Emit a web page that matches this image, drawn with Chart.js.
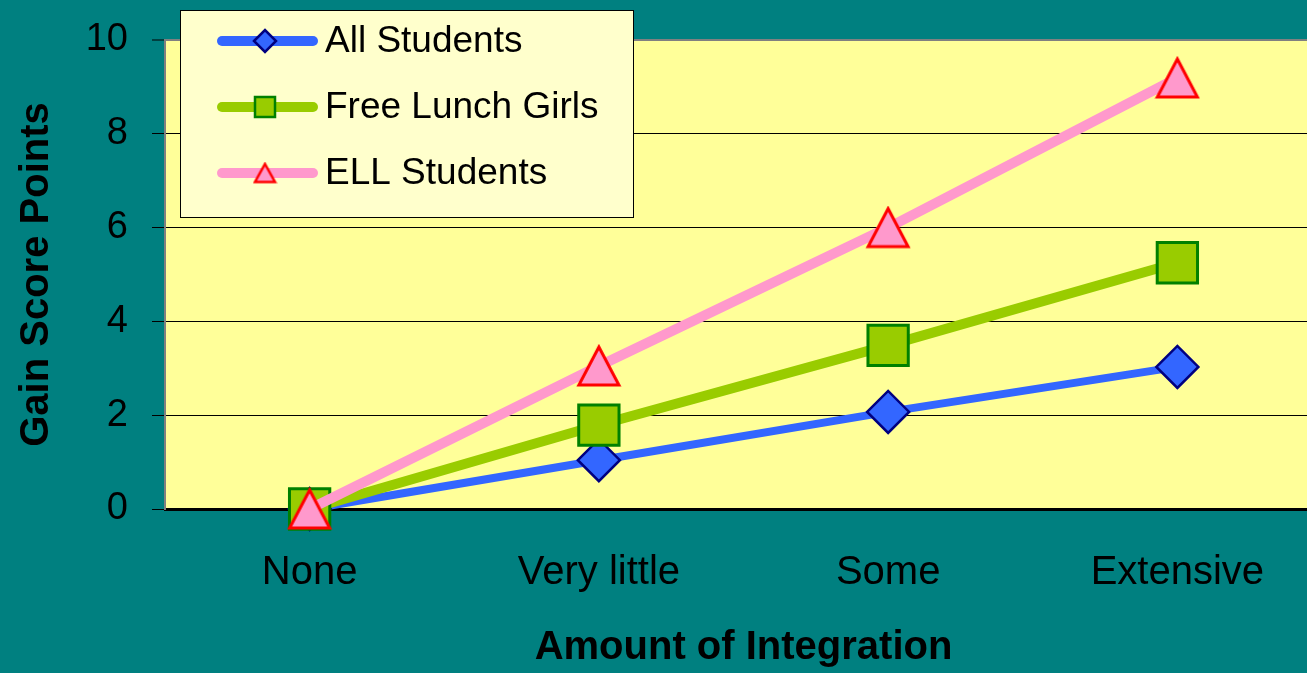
<!DOCTYPE html>
<html>
<head>
<meta charset="utf-8">
<script src="https://cdn.jsdelivr.net/npm/chart.js@4/dist/chart.umd.min.js"></script>
<style>
  html, body { margin: 0; padding: 0; background: #008080; overflow: hidden; }
  #wrap { width: 1322px; height: 673px; }
</style>
</head>
<body>
<div id="wrap"><canvas id="myChart" width="1322" height="673"></canvas></div>
<script>
const categories = ['None', 'Very little', 'Some', 'Extensive'];
const allStudents = [0, 1.04, 2.07, 3.03];
const freeLunchGirls = [0, 1.79, 3.49, 5.25];
const ellStudents = [0, 3.05, 6.0, 9.19];
const yTicks = [0, 2, 4, 6, 8, 10];

const FONT = "'Liberation Sans', Arial, sans-serif";
Chart.defaults.font.family = FONT;

// excel style triangle, centered on its bounding box
function makeTriangle(w, h, lw) {
    const c = document.createElement('canvas');
    c.width = w + lw * 2;
    c.height = h + lw * 2;
    const g = c.getContext('2d');
    g.beginPath();
    g.moveTo(c.width / 2, lw);
    g.lineTo(c.width - lw, lw + h);
    g.lineTo(lw, lw + h);
    g.closePath();
    g.fillStyle = '#FF99CC';
    g.fill();
    g.lineWidth = lw;
    g.strokeStyle = '#FF0000';
    g.stroke();
    return c;
}
const bigTriangle = makeTriangle(40, 38, 3);
const smallTriangle = makeTriangle(20, 18, 2.5);

const backgroundPlugin = {
    id: 'bg',
    beforeDraw(chart) {
        const ctx = chart.ctx;
        const a = chart.chartArea;
        ctx.save();
        ctx.fillStyle = '#008080';
        ctx.fillRect(0, 0, chart.width, chart.height);
        ctx.fillStyle = '#FFFF99';
        ctx.fillRect(a.left, a.top, a.right - a.left, a.bottom - a.top);
        ctx.restore();
    }
};

const legendPlugin = {
    id: 'boxLegend',
    afterDraw(chart) {
        const ctx = chart.ctx;
        ctx.save();
        ctx.fillStyle = '#FFFFCC';
        ctx.fillRect(180, 10, 453, 207);
        ctx.strokeStyle = '#000';
        ctx.lineWidth = 1;
        ctx.strokeRect(180.5, 10.5, 453, 207);

        chart.data.datasets.forEach(function (ds, i) {
            const y = 41 + 66 * i;
            ctx.beginPath();
            ctx.lineCap = 'round';
            ctx.lineWidth = 10;
            ctx.strokeStyle = ds.borderColor;
            ctx.moveTo(222, y);
            ctx.lineTo(313, y);
            ctx.stroke();

            const x = 265;
            ctx.lineCap = 'butt';
            ctx.fillStyle = ds.pointBackgroundColor;
            ctx.strokeStyle = ds.pointBorderColor;
            ctx.lineWidth = 2.5;
            if (ds.pointStyle === 'rectRot') {
                ctx.beginPath();
                ctx.moveTo(x - 11, y);
                ctx.lineTo(x, y - 11);
                ctx.lineTo(x + 11, y);
                ctx.lineTo(x, y + 11);
                ctx.closePath();
                ctx.fill();
                ctx.stroke();
            } else if (ds.pointStyle === 'rect') {
                ctx.fillRect(x - 10, y - 10, 20, 20);
                ctx.strokeRect(x - 10, y - 10, 20, 20);
            } else {
                ctx.drawImage(smallTriangle, x - smallTriangle.width / 2, y - smallTriangle.height / 2);
            }

            ctx.fillStyle = '#000';
            ctx.font = '37px ' + FONT;
            ctx.textBaseline = 'middle';
            ctx.textAlign = 'left';
            ctx.fillText(ds.label, 325, y + 1);
        });
        ctx.restore();
    }
};

var ctx = document.getElementById('myChart').getContext('2d');

var myChart = new Chart(ctx, {
    type: 'line',
    data: {
        labels: categories,
        datasets: [{
            label: 'All Students',
            data: allStudents,
            borderColor: '#3366FF',
            borderWidth: 8,
            pointStyle: 'rectRot',
            pointRadius: 21,
            pointBackgroundColor: '#3366FF',
            pointBorderColor: '#000080',
            pointBorderWidth: 2.5,
            clip: false,
            order: 3
        }, {
            label: 'Free Lunch Girls',
            data: freeLunchGirls,
            borderColor: '#99CC00',
            borderWidth: 10,
            pointStyle: 'rect',
            pointRadius: 28.5,
            pointBackgroundColor: '#99CC00',
            pointBorderColor: '#008000',
            pointBorderWidth: 3,
            clip: false,
            order: 2
        }, {
            label: 'ELL Students',
            data: ellStudents,
            borderColor: '#FF99CC',
            borderWidth: 10,
            pointStyle: bigTriangle,
            pointRadius: 22,
            pointBackgroundColor: '#FF99CC',
            pointBorderColor: '#FF0000',
            clip: false,
            order: 1
        }]
    },
    options: {
        responsive: false,
        animation: false,
        events: [],
        layout: { autoPadding: false, padding: { top: 40, left: 0, right: 0, bottom: 0 } },
        plugins: {
            legend: { display: false },
            tooltip: { enabled: false }
        },
        scales: {
            x: {
                offset: true,
                grid: { display: false, drawTicks: false },
                border: { color: '#000', width: 3 },
                ticks: {
                    color: '#000',
                    font: { size: 40 },
                    padding: 40,
                    maxRotation: 0,
                    autoSkip: false
                },
                title: {
                    display: true,
                    text: 'Amount of Integration',
                    color: '#000',
                    font: { size: 40, weight: 'bold' },
                    padding: { top: 0, bottom: 1 }
                },
                afterFit: function (scale) {
                    scale.height = 164;
                    scale.paddingLeft = 0;
                    scale.paddingRight = 0;
                }
            },
            y: {
                min: 0,
                max: 10,
                afterBuildTicks: function (scale) {
                    scale.ticks = yTicks.map(function (v) { return { value: v }; });
                },
                ticks: {
                    color: '#000',
                    font: { size: 38 },
                    padding: 24
                },
                grid: {
                    color: function (c) { return c.tick && c.tick.value === 10 ? '#808080' : '#000'; },
                    lineWidth: function (c) { return c.tick && c.tick.value === 10 ? 2 : 1; },
                    tickColor: '#000',
                    tickWidth: 1,
                    tickLength: 13
                },
                border: { color: '#808080', width: 2 },
                title: {
                    display: true,
                    text: 'Gain Score Points',
                    color: '#000',
                    font: { size: 40, weight: 'bold' },
                    padding: { top: 13, bottom: 0 }
                },
                afterFit: function (scale) {
                    scale.width = 165;
                    scale.paddingTop = 0;
                    scale.paddingBottom = 0;
                }
            }
        }
    },
    plugins: [backgroundPlugin, legendPlugin]
});
</script>
</body>
</html>
